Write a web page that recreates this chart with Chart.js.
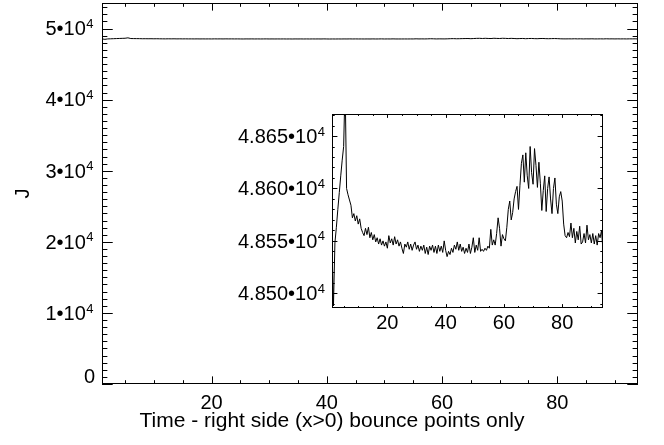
<!DOCTYPE html>
<html>
<head>
<meta charset="utf-8">
<script src="https://cdn.jsdelivr.net/npm/chart.js@4.4.1/dist/chart.umd.min.js"></script>
<style>
  html, body { margin: 0; padding: 0; background: #fff; }
  #wrap { position: relative; width: 664px; height: 445px; }
  #main { position: absolute; left: 0; top: 0; }
  #inset { position: absolute; left: 200px; top: 100px; }
</style>
</head>
<body>
<div id="wrap">
  <canvas id="main" width="664" height="445"></canvas>
  <canvas id="inset" width="430" height="250"></canvas>
</div>
<script>
// time of each right-side bounce point
const times = [
  1.0, 1.5, 2.0, 2.5, 3.0, 3.5, 4.0, 4.5, 5.0, 5.5, 6.0, 6.5, 7.0, 7.5, 8.0, 8.5, 9.0, 9.5, 10.0, 10.5,
  11.0, 11.5, 12.0, 12.5, 13.0, 13.5, 14.0, 14.5, 15.0, 15.5, 16.0, 16.5, 17.0, 17.5, 18.0, 18.5, 19.0, 19.5, 20.0, 20.5,
  21.0, 21.5, 22.0, 22.5, 23.0, 23.5, 24.0, 24.5, 25.0, 25.5, 26.0, 26.5, 27.0, 27.5, 28.0, 28.5, 29.0, 29.5, 30.0, 30.5,
  31.0, 31.5, 32.0, 32.5, 33.0, 33.5, 34.0, 34.5, 35.0, 35.5, 36.0, 36.5, 37.0, 37.5, 38.0, 38.5, 39.0, 39.5, 40.0, 40.5,
  41.0, 41.5, 42.0, 42.5, 43.0, 43.5, 44.0, 44.5, 45.0, 45.5, 46.0, 46.5, 47.0, 47.5, 48.0, 48.5, 49.0, 49.5, 50.0, 50.5,
  51.0, 51.5, 52.0, 52.5, 53.0, 53.5, 54.0, 54.5, 55.0, 55.5, 56.0, 56.5, 57.0, 57.5, 58.0, 58.5, 59.0, 59.5, 60.0, 60.5,
  61.0, 61.5, 62.0, 62.5, 63.0, 63.5, 64.0, 64.5, 65.0, 65.5, 66.0, 66.5, 67.0, 67.5, 68.0, 68.5, 69.0, 69.5, 70.0, 70.5,
  71.0, 71.5, 72.0, 72.5, 73.0, 73.5, 74.0, 74.5, 75.0, 75.5, 76.0, 76.5, 77.0, 77.5, 78.0, 78.5, 79.0, 79.5, 80.0, 80.5,
  81.0, 81.5, 82.0, 82.5, 83.0, 83.5, 84.0, 84.5, 85.0, 85.5, 86.0, 86.5, 87.0, 87.5, 88.0, 88.5, 89.0, 89.5, 90.0, 90.5,
  91.0, 91.5, 92.0, 92.5, 93.0, 93.5, 94.0
];

// J at each bounce point
const jValues = [
  48545, 48488, 48548, 48563, 48580, 48596, 48612, 48627, 48640, 48700, 48600, 48594, 48589, 48584, 48572, 48576, 48569, 48574, 48566, 48571,
  48562, 48558, 48555, 48562, 48556, 48563, 48553, 48558, 48551, 48556, 48549, 48553, 48547, 48552, 48546, 48550, 48545, 48549, 48543, 48555,
  48548, 48552, 48546, 48554, 48547, 48551, 48545, 48549, 48543, 48538, 48547, 48544, 48549, 48542, 48547, 48541, 48546, 48549, 48542, 48546,
  48540, 48545, 48541, 48546, 48538, 48544, 48537, 48545, 48541, 48546, 48539, 48545, 48538, 48546, 48540, 48545, 48539, 48550, 48541, 48535,
  48540, 48537, 48543, 48539, 48546, 48542, 48549, 48541, 48547, 48540, 48544, 48538, 48543, 48539, 48547, 48538, 48544, 48553, 48539, 48546,
  48541, 48553, 48540, 48542, 48540, 48543, 48541, 48545, 48543, 48561, 48546, 48551, 48546, 48557, 48572, 48562, 48545, 48556, 48552, 48550,
  48563, 48580, 48588, 48570, 48577, 48590, 48597, 48602, 48580, 48603, 48624, 48632, 48606, 48634, 48612, 48600, 48640, 48615, 48604, 48638,
  48622, 48601, 48625, 48605, 48579, 48598, 48612, 48578, 48600, 48611, 48590, 48576, 48600, 48610, 48585, 48576, 48592, 48597, 48588, 48566,
  48555, 48553, 48558, 48554, 48567, 48553, 48562, 48548, 48559, 48551, 48564, 48547, 48549, 48557, 48548, 48565, 48551, 48556, 48548, 48557,
  48547, 48555, 48546, 48557, 48553, 48560, 48540
];

const xTicks = [20, 40, 60, 80];
const mainYTicks = [0, 10000, 20000, 30000, 40000, 50000];
const mainYLabels = [["0", ""], ["1•10", "4"], ["2•10", "4"], ["3•10", "4"], ["4•10", "4"], ["5•10", "4"]];
const insetYTicks = [48500, 48550, 48600, 48650];
const insetYLabels = [["4.850•10", "4"], ["4.855•10", "4"], ["4.860•10", "4"], ["4.865•10", "4"]];
const xTitle = "Time - right side (x>0) bounce points only";
const yTitle = "J";

const FONT = "'Liberation Sans', Arial, Helvetica, sans-serif";

// IDL style box: frame, inward ticks on all four sides, superscript y labels
const idlAxes = {
  id: "idlAxes",
  afterDraw(chart, args, o) {
    const { ctx, chartArea: a } = chart;
    const xs = chart.scales.x;
    const ys = chart.scales.y;
    const w = a.right - a.left;
    const h = a.bottom - a.top;
    ctx.save();
    ctx.strokeStyle = "#000";
    ctx.lineWidth = 1;
    ctx.beginPath();
    for (let k = Math.ceil(xs.min / o.xMinor); k * o.xMinor <= xs.max; k++) {
      const p = Math.round(xs.getPixelForValue(k * o.xMinor)) + 0.5;
      const len = (k % o.xRatio === 0 ? 0.02 : 0.01) * h;
      ctx.moveTo(p, a.bottom);
      ctx.lineTo(p, a.bottom - len);
      ctx.moveTo(p, a.top);
      ctx.lineTo(p, a.top + len);
    }
    for (let k = Math.ceil(ys.min / o.yMinor); k * o.yMinor <= ys.max; k++) {
      const p = Math.round(ys.getPixelForValue(k * o.yMinor)) + 0.5;
      const len = (k % o.yRatio === 0 ? 0.02 : 0.01) * w;
      ctx.moveTo(a.left, p);
      ctx.lineTo(a.left + len, p);
      ctx.moveTo(a.right, p);
      ctx.lineTo(a.right - len, p);
    }
    ctx.stroke();
    ctx.strokeRect(a.left + 0.5, a.top + 0.5, w - 1, h - 1);

    ctx.fillStyle = "#000";
    ctx.textAlign = "right";
    ctx.textBaseline = "alphabetic";
    o.yTicks.forEach((v, i) => {
      const [base, sup] = o.yLabels[i];
      // keep the lowest label above the bottom edge, as IDL does
      const py = Math.min(ys.getPixelForValue(v) + 6.8, a.bottom - 1);
      let right = a.left - (sup ? o.gap : o.gapPlain);
      if (sup) {
        ctx.font = "13px " + FONT;
        ctx.fillText(sup, right, py - 7.2);
        right -= ctx.measureText(sup).width + 0.5;
      }
      ctx.font = "20px " + FONT;
      ctx.fillText(base, right, py);
    });

    if (o.xTitle) {
      // IDL centres the x title on the window, not on the plot box
      ctx.textAlign = "center";
      ctx.font = "21px " + FONT;
      ctx.fillText(o.xTitle, chart.width / 2, o.xTitleBaseline);
    }
    ctx.restore();
  }
};

const points = times.map((t, i) => ({ x: t, y: jValues[i] }));

function lineData() {
  return {
    datasets: [{
      data: points,
      borderColor: "#000",
      borderWidth: 1,
      pointRadius: 0,
      tension: 0
    }]
  };
}

// main plot
new Chart(document.getElementById("main"), {
  type: "line",
  data: lineData(),
  options: {
    responsive: false,
    animation: false,
    events: [],
    layout: { padding: { left: 0, top: 3, right: 26, bottom: 0 } },
    plugins: {
      legend: { display: false },
      tooltip: { enabled: false },
      idlAxes: {
        xMinor: 5, xRatio: 4, yMinor: 1000, yRatio: 10,
        yTicks: mainYTicks, yLabels: mainYLabels, gap: 8.5, gapPlain: 7,
        xTitle: xTitle, xTitleBaseline: 427
      }
    },
    scales: {
      x: {
        type: "linear",
        min: 1,
        max: 94,
        afterBuildTicks: (s) => { s.ticks = xTicks.map((v) => ({ value: v })); },
        afterFit: (s) => { s.height = 61; },
        grid: { display: false, drawTicks: false },
        border: { display: false },
        ticks: { color: "#000", font: { family: FONT, size: 20 }, padding: 7, maxRotation: 0, autoSkip: false }
      },
      y: {
        type: "linear",
        min: 0,
        max: 53600,
        afterFit: (s) => { s.width = 102; },
        grid: { display: false, drawTicks: false },
        border: { display: false },
        ticks: { display: false },
        title: {
          display: true,
          text: yTitle,
          color: "#000",
          font: { family: FONT, size: 20 },
          padding: { top: 11, bottom: 0 }
        }
      }
    }
  },
  plugins: [idlAxes]
});

// zoomed inset
new Chart(document.getElementById("inset"), {
  type: "line",
  data: lineData(),
  options: {
    responsive: false,
    animation: false,
    events: [],
    layout: { padding: { left: 0, top: 14, right: 27, bottom: 0 } },
    plugins: {
      legend: { display: false },
      tooltip: { enabled: false },
      idlAxes: {
        xMinor: 5, xRatio: 4, yMinor: 10, yRatio: 5,
        yTicks: insetYTicks, yLabels: insetYLabels, gap: 7, gapPlain: 7
      }
    },
    scales: {
      x: {
        type: "linear",
        min: 1,
        max: 94,
        afterBuildTicks: (s) => { s.ticks = xTicks.map((v) => ({ value: v })); },
        afterFit: (s) => { s.height = 42; },
        grid: { display: false, drawTicks: false },
        border: { display: false },
        ticks: { color: "#000", font: { family: FONT, size: 20 }, padding: 3, maxRotation: 0, autoSkip: false }
      },
      y: {
        type: "linear",
        min: 48486,
        max: 48671,
        afterFit: (s) => { s.width = 132; },
        grid: { display: false, drawTicks: false },
        border: { display: false },
        ticks: { display: false }
      }
    }
  },
  plugins: [idlAxes]
});
</script>
</body>
</html>
